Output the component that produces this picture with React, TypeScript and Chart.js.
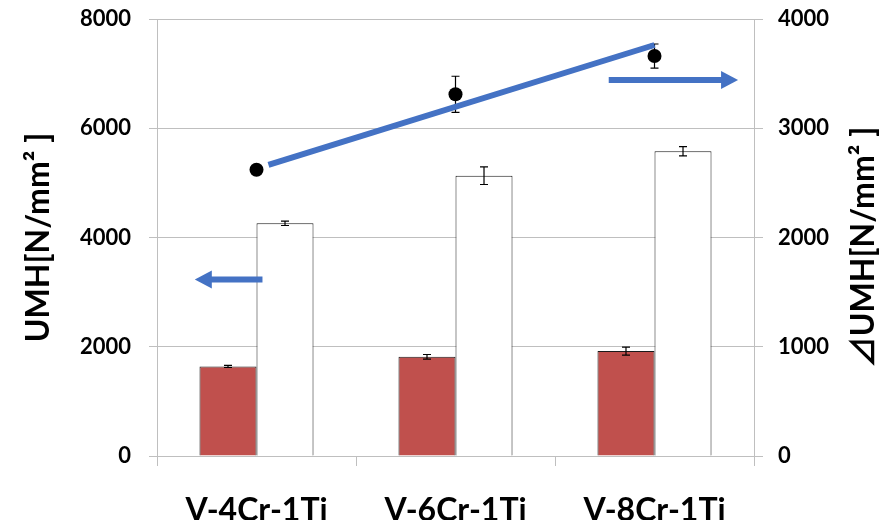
import React, { useEffect, useRef } from "react";
import { Chart, registerables } from "chart.js";

Chart.register(...registerables);

// ---- data ----
const categories = ["V-4Cr-1Ti", "V-6Cr-1Ti", "V-8Cr-1Ti"];
const umhRed = [1640, 1815, 1920];
const umhRedErr = [20, 43, 73];
const umhWhite = [4260, 5132, 5580];
const umhWhiteErr = [40, 162, 85];
const deltaUmh = [2620, 3311, 3661];
const deltaUmhErr = [30, 165, 110];

const leftTitle = "UMH[N/mm\u00B2 ]";
const rightTitle = "\u22BFUMH[N/mm\u00B2 ]";

// annotations in data space (category position, axis value)
const trendPos = [0.06, 2.0];
const trendVal = [2664, 3762]; // right axis
const leftArrowPos = [0.03, -0.31];
const leftArrowVal = 3230; // left axis
const rightArrowPos = [1.77, 2.42];
const rightArrowVal = 3442; // right axis

const FONT = "Lato, 'Noto Sans CJK JP', 'Open Sans', sans-serif";
const BLUE = "#4472C4";
const GRID = "#bfbfbf";

function posToPixel(xScale: any, pos: number) {
  const p0 = xScale.getPixelForValue(0);
  const p1 = xScale.getPixelForValue(1);
  return p0 + (p1 - p0) * pos;
}

function drawArrow(ctx: CanvasRenderingContext2D, x1: number, y1: number, x2: number, y2: number, shaft: number, headLen: number, headHalf: number) {
  const dx = x2 - x1;
  const dy = y2 - y1;
  const len = Math.hypot(dx, dy);
  const ux = dx / len;
  const uy = dy / len;
  const bx = x2 - ux * headLen;
  const by = y2 - uy * headLen;
  ctx.save();
  ctx.strokeStyle = BLUE;
  ctx.fillStyle = BLUE;
  ctx.lineWidth = shaft;
  ctx.lineCap = "butt";
  ctx.beginPath();
  ctx.moveTo(x1, y1);
  ctx.lineTo(bx + ux * 1, by + uy * 1);
  ctx.stroke();
  ctx.beginPath();
  ctx.moveTo(x2, y2);
  ctx.lineTo(bx - uy * headHalf, by + ux * headHalf);
  ctx.lineTo(bx + uy * headHalf, by - ux * headHalf);
  ctx.closePath();
  ctx.fill();
  ctx.restore();
}

const errorBarPlugin = {
  id: "errorBars",
  afterDatasetsDraw(chart: any) {
    const ctx = chart.ctx as CanvasRenderingContext2D;
    chart.data.datasets.forEach((ds: any, di: number) => {
      if (!ds.errors) return;
      const meta = chart.getDatasetMeta(di);
      const yScale = chart.scales[ds.yAxisID];
      meta.data.forEach((el: any, i: number) => {
        const v = ds.data[i];
        const e = ds.errors[i];
        const x = el.x;
        const yTop = yScale.getPixelForValue(v + e);
        const yBot = yScale.getPixelForValue(v - e);
        ctx.save();
        ctx.strokeStyle = "#000";
        ctx.lineWidth = 1.2;
        ctx.beginPath();
        ctx.moveTo(x, yTop);
        ctx.lineTo(x, yBot);
        ctx.moveTo(x - 4, yTop);
        ctx.lineTo(x + 4, yTop);
        ctx.moveTo(x - 4, yBot);
        ctx.lineTo(x + 4, yBot);
        ctx.stroke();
        ctx.restore();
      });
    });
  },
};

const annotationPlugin = {
  id: "annotations",
  afterDraw(chart: any) {
    const ctx = chart.ctx as CanvasRenderingContext2D;
    const xs = chart.scales.x;
    const yl = chart.scales.y;
    const yr = chart.scales.y1;
    // trend line
    ctx.save();
    ctx.strokeStyle = BLUE;
    ctx.lineWidth = 6;
    ctx.lineCap = "butt";
    ctx.beginPath();
    ctx.moveTo(posToPixel(xs, trendPos[0]), yr.getPixelForValue(trendVal[0]));
    ctx.lineTo(posToPixel(xs, trendPos[1]), yr.getPixelForValue(trendVal[1]));
    ctx.stroke();
    ctx.restore();
    // left arrow
    drawArrow(
      ctx,
      posToPixel(xs, leftArrowPos[0]), yl.getPixelForValue(leftArrowVal),
      posToPixel(xs, leftArrowPos[1]), yl.getPixelForValue(leftArrowVal),
      6, 17, 9
    );
    // right arrow
    drawArrow(
      ctx,
      posToPixel(xs, rightArrowPos[0]), yr.getPixelForValue(rightArrowVal),
      posToPixel(xs, rightArrowPos[1]), yr.getPixelForValue(rightArrowVal),
      6, 17, 9
    );
    // right axis title (reads bottom to top)
    const ca = chart.chartArea;
    ctx.save();
    ctx.translate(yr.left + 110, (ca.top + ca.bottom) / 2 + 10);
    ctx.rotate(-Math.PI / 2);
    ctx.fillStyle = "#000";
    ctx.font = `bold 32px ${FONT}`;
    ctx.textAlign = "center";
    ctx.textBaseline = "middle";
    ctx.fillText(rightTitle, 0, 0);
    ctx.restore();
  },
};

const plainTick = (v: any) => String(v);
const trimPadding = (s: any, w: number) => {
  s.width = w;
  s.paddingTop = 12;
  s.paddingBottom = 12;
};

export default function App() {
  const ref = useRef<HTMLCanvasElement | null>(null);
  useEffect(() => {
    if (!ref.current) return;
    const chart = new Chart(ref.current, {
      type: "bar",
      data: {
        labels: categories,
        datasets: [
          {
            type: "line",
            label: "dUMH",
            data: deltaUmh,
            errors: deltaUmhErr,
            yAxisID: "y1",
            showLine: false,
            pointRadius: 7,
            pointBackgroundColor: "#000",
            pointBorderColor: "#000",
            pointBorderWidth: 0,
            order: 0,
          } as any,
          {
            label: "UMH1",
            data: umhRed,
            errors: umhRedErr,
            yAxisID: "y",
            backgroundColor: "#C0504D",
            borderColor: "#1a1a1a",
            borderWidth: 1,
            categoryPercentage: 0.573,
            barPercentage: 1.0,
            order: 1,
          } as any,
          {
            label: "UMH2",
            data: umhWhite,
            errors: umhWhiteErr,
            yAxisID: "y",
            backgroundColor: "#ffffff",
            borderColor: "#1a1a1a",
            borderWidth: 1,
            categoryPercentage: 0.573,
            barPercentage: 1.0,
            order: 1,
          } as any,
        ],
      },
      options: {
        responsive: false,
        animation: false,
        layout: { padding: { top: 19, left: 0, right: 0, bottom: 0 } },
        plugins: { legend: { display: false }, tooltip: { enabled: false } },
        scales: {
          x: {
            grid: {
              display: true,
              drawOnChartArea: false,
              offset: true,
              tickLength: 10,
              color: GRID,
            },
            border: { display: true, color: GRID },
            ticks: {
              color: "#000",
              font: { family: FONT, size: 32, weight: "bold" },
              padding: 25,
            },
            afterFit: (s: any) => {
              s.height = 84;
            },
          },
          y: {
            position: "left",
            min: 0,
            max: 8000,
            ticks: {
              stepSize: 2000,
              color: "#000",
              font: { family: FONT, size: 22, weight: "bold" },
              padding: 18,
              callback: plainTick,
            },
            grid: { color: GRID, tickLength: 8 },
            border: { display: true, color: GRID },
            title: {
              display: true,
              text: leftTitle,
              color: "#000",
              font: { family: FONT, size: 32, weight: "bold" },
              padding: { top: 19, bottom: 0 },
            },
            afterFit: (s: any) => trimPadding(s, 157),
          },
          y1: {
            position: "right",
            min: 0,
            max: 4000,
            ticks: {
              stepSize: 1000,
              color: "#000",
              font: { family: FONT, size: 22, weight: "bold" },
              padding: 15,
              callback: plainTick,
            },
            grid: { color: GRID, tickLength: 9, drawOnChartArea: false },
            border: { display: true, color: GRID },
            afterFit: (s: any) => trimPadding(s, 142),
          },
        },
      } as any,
      plugins: [errorBarPlugin, annotationPlugin],
    });
    return () => chart.destroy();
  }, []);
  return (
    <div style={{ position: "fixed", left: 0, top: 0, width: 896, height: 540, background: "#fff" }}>
      <canvas ref={ref} width={896} height={540} style={{ display: "block" }} />
    </div>
  );
}
